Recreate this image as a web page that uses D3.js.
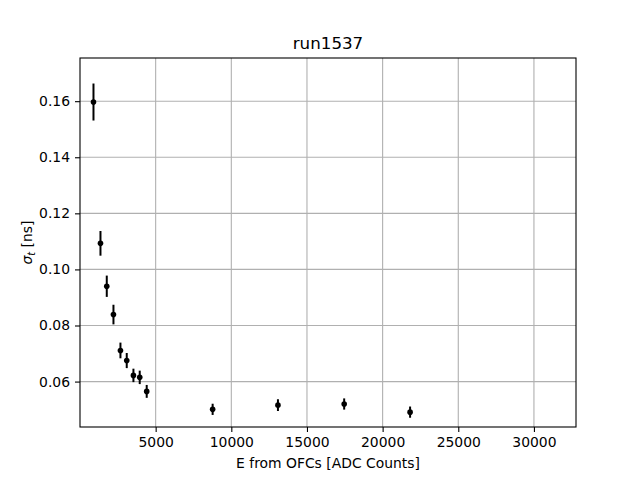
<!DOCTYPE html>
<html>
<head>
<meta charset="utf-8">
<script src="https://cdn.jsdelivr.net/npm/d3@7"></script>
<style>
  body { margin: 0; background: #fff; }
  text { font-family: "DejaVu Sans", sans-serif; }
</style>
</head>
<body>
<div id="chart"></div>
<script>
// data
var energy = [891, 1353, 1769, 2211, 2673, 3089, 3531, 3947, 4409, 8766, 13082, 17459, 21815];
var sigma  = [0.1597, 0.1093, 0.0940, 0.0839, 0.0711, 0.0675, 0.0622, 0.0615, 0.0565, 0.0501, 0.0516, 0.0520, 0.0491];
var sigmaErr = [0.0066, 0.0044, 0.0038, 0.0035, 0.0028, 0.0027, 0.0024, 0.0024, 0.0023, 0.0020, 0.0021, 0.0020, 0.0020];
var xTicks = [5000, 10000, 15000, 20000, 25000, 30000];
var yTicks = [0.06, 0.08, 0.10, 0.12, 0.14, 0.16];

var margin = {top: 58, right: 64, bottom: 53, left: 80},
    width = 640 - margin.left - margin.right,
    height = 480 - margin.top - margin.bottom;

var svg = d3.select("#chart").append("svg")
    .attr("width", 640)
    .attr("height", 480)
  .append("g")
    .attr("transform", "translate(" + margin.left + "," + margin.top + ")");

var x = d3.scaleLinear().domain([0, 32780]).range([0, width]);
var y = d3.scaleLinear().domain([0.0438, 0.1754]).range([height, 0]);

// grid
svg.append("g").selectAll("line")
    .data(xTicks)
  .enter().append("line")
    .attr("x1", function(d) { return x(d); })
    .attr("x2", function(d) { return x(d); })
    .attr("y1", 0).attr("y2", height)
    .style("stroke", "#b0b0b0").style("stroke-width", 1.1);

svg.append("g").selectAll("line")
    .data(yTicks)
  .enter().append("line")
    .attr("y1", function(d) { return y(d); })
    .attr("y2", function(d) { return y(d); })
    .attr("x1", 0).attr("x2", width)
    .style("stroke", "#b0b0b0").style("stroke-width", 1.1);

// axes
var xAxis = d3.axisBottom(x).tickValues(xTicks).tickSize(5).tickPadding(5).tickFormat(d3.format("d"));
var yAxis = d3.axisLeft(y).tickValues(yTicks).tickSize(5).tickPadding(5).tickFormat(d3.format(".2f"));

svg.append("g")
    .attr("transform", "translate(0," + height + ")")
    .call(xAxis)
    .call(function(g) { g.select(".domain").remove(); })
    .selectAll("text").style("font-size", "13.9px").style("fill", "#000");

svg.append("g")
    .call(yAxis)
    .call(function(g) { g.select(".domain").remove(); })
    .selectAll("text").style("font-size", "13.9px").style("fill", "#000");

svg.selectAll(".tick line").style("stroke", "#000").style("stroke-width", 1.1);

// frame
svg.append("rect")
    .attr("width", width).attr("height", height)
    .style("fill", "none").style("stroke", "#000").style("stroke-width", 1.1);

// error bars
svg.append("g").selectAll("line")
    .data(energy)
  .enter().append("line")
    .attr("x1", function(d) { return x(d); })
    .attr("x2", function(d) { return x(d); })
    .attr("y1", function(d, i) { return y(sigma[i] - sigmaErr[i]); })
    .attr("y2", function(d, i) { return y(sigma[i] + sigmaErr[i]); })
    .style("stroke", "#000").style("stroke-width", 2);

// points
svg.selectAll(".dot")
    .data(energy)
  .enter().append("circle")
    .attr("class", "dot")
    .attr("r", 2.8)
    .attr("cx", function(d) { return x(d); })
    .attr("cy", function(d, i) { return y(sigma[i]); })
    .style("fill", "#000");

// title and labels
svg.append("text")
    .attr("x", width / 2).attr("y", -9)
    .style("text-anchor", "middle").style("font-size", "16.7px")
    .text("run1537");

svg.append("text")
    .attr("x", width / 2).attr("y", height + 41)
    .style("text-anchor", "middle").style("font-size", "13.9px")
    .text("E from OFCs [ADC Counts]");

var yl = svg.append("text")
    .attr("transform", "translate(-48," + (height / 2) + ") rotate(-90)")
    .style("text-anchor", "middle").style("font-size", "13.9px");
yl.append("tspan").style("font-style", "italic").text("σ");
yl.append("tspan").attr("dy", 3).style("font-style", "italic").style("font-size", "9.7px").text("t");
yl.append("tspan").attr("dy", -3).text(" [ns]");
</script>
</body>
</html>
